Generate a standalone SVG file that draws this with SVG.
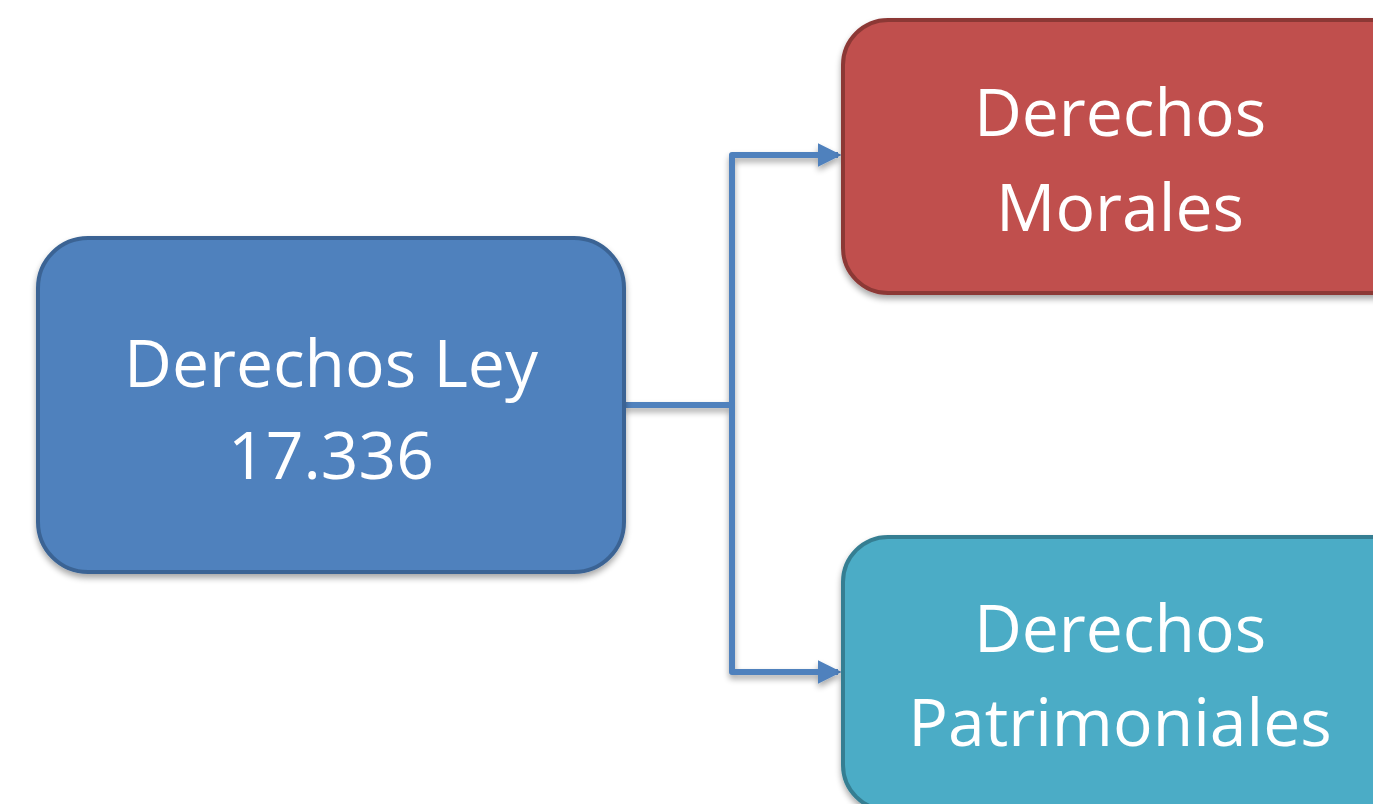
<svg xmlns="http://www.w3.org/2000/svg" width="1373" height="804" viewBox="0 0 1373 804">
  <defs>
    <filter id="shadow" x="-10%" y="-10%" width="120%" height="130%">
      <feGaussianBlur in="SourceAlpha" stdDeviation="3"/>
      <feOffset dx="0" dy="4" result="b"/>
      <feComponentTransfer><feFuncA type="linear" slope="0.35"/></feComponentTransfer>
      <feMerge><feMergeNode/><feMergeNode in="SourceGraphic"/></feMerge>
    </filter>
    <marker id="arrow" markerWidth="4" markerHeight="4" refX="3.4" refY="2" orient="auto" markerUnits="strokeWidth">
      <path d="M0,0 L4,2 L0,4 Z" fill="#4F81BD"/>
    </marker>
    <style>
      .label { font-family: "Open Sans", "Liberation Sans", sans-serif; font-size: 66px; fill: #FFFFFF; text-anchor: middle; }
      .link { fill: none; stroke: #4F81BD; stroke-width: 6; stroke-linejoin: round; }
    </style>
  </defs>

  <rect width="1373" height="804" fill="#FFFFFF"/>

  <g id="connectors" filter="url(#shadow)">
    <path class="link" d="M624,405 H732"/>
    <path class="link" d="M732,405 V155 H838" marker-end="url(#arrow)"/>
    <path class="link" d="M732,405 V672 H838" marker-end="url(#arrow)"/>
  </g>

  <g id="node-ley" filter="url(#shadow)">
    <rect x="38" y="238" width="586" height="334" rx="50" fill="#4F81BD" stroke="#3B6494" stroke-width="4"/>
    <text class="label" x="331" y="387">Derechos Ley</text>
    <text class="label" x="331" y="479">17.336</text>
  </g>

  <g id="node-morales" filter="url(#shadow)">
    <rect x="843" y="20" width="580" height="273" rx="45" fill="#C0504D" stroke="#8C3836" stroke-width="4"/>
    <text class="label" x="1120" y="136">Derechos</text>
    <text class="label" x="1120" y="231">Morales</text>
  </g>

  <g id="node-patrimoniales" filter="url(#shadow)">
    <rect x="843" y="537" width="580" height="273" rx="45" fill="#4BACC6" stroke="#357E92" stroke-width="4"/>
    <text class="label" x="1120" y="652">Derechos</text>
    <text class="label" x="1120" y="746">Patrimoniales</text>
  </g>
</svg>
